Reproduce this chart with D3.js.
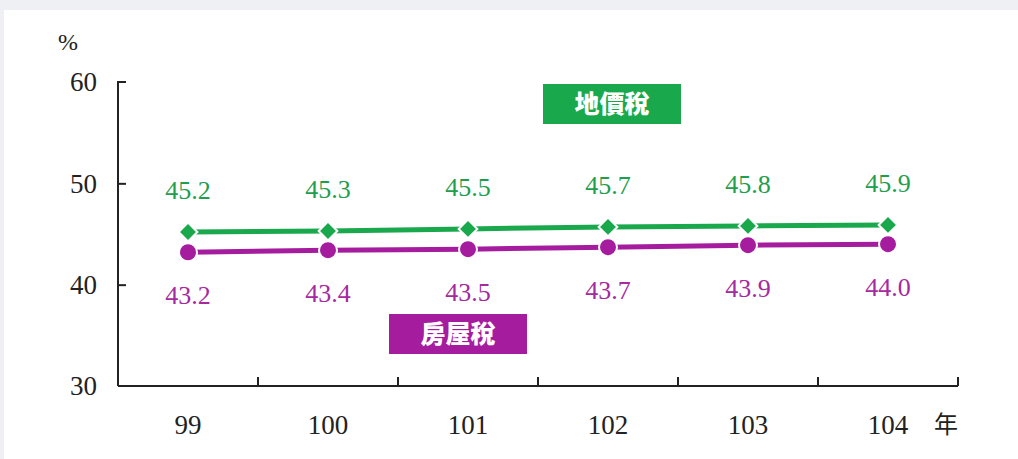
<!DOCTYPE html>
<html>
<head>
<meta charset="utf-8">
<script src="https://cdn.jsdelivr.net/npm/d3@7"></script>
<style>
  body { margin: 0; background: #eef0f3; }
  svg { display: block; }
</style>
</head>
<body>
<svg id="chart" width="1018" height="459"></svg>
<script>
const years = ["99", "100", "101", "102", "103", "104"];
const landTax = [45.2, 45.3, 45.5, 45.7, 45.8, 45.9];
const houseTax = [43.2, 43.4, 43.5, 43.7, 43.9, 44.0];
const yTicks = [30, 40, 50, 60];

const green = "#1aa84c";
const purple = "#a61c9f";
const serif = "'Liberation Serif', 'Times New Roman', serif";

const svg = d3.select("#chart");

// white panel
svg.append("rect").attr("x", 4).attr("y", 10).attr("width", 1014).attr("height", 449).attr("fill", "#fff");

const x = d3.scaleBand().domain(years).range([118, 958]);
const y = d3.scaleLinear().domain([30, 60]).range([386, 82]);

// y axis
const yAxis = svg.append("g")
  .attr("transform", "translate(118,0)")
  .call(d3.axisRight(y).tickValues(yTicks).tickSize(8).tickFormat(""));
yAxis.select(".domain").attr("stroke", "#222").attr("stroke-width", 2).attr("d", "M8,82H0V386");
yAxis.selectAll(".tick line").attr("stroke", "#222").attr("stroke-width", 2);
yAxis.selectAll(".tick").filter(d => d === 30 || d === 60).select("line").remove();

svg.selectAll(".ylab")
  .data(yTicks)
  .enter()
  .append("text")
  .attr("x", 97)
  .attr("y", d => y(d))
  .attr("dy", "0.35em")
  .attr("text-anchor", "end")
  .style("font-family", serif)
  .style("font-size", "27px")
  .style("fill", "#222")
  .text(d => d);

svg.append("text").attr("x", 68).attr("y", 42).attr("dy", "0.35em").attr("text-anchor", "middle")
  .style("font-family", serif).style("font-size", "24px").style("fill", "#222").text("%");

// x axis
svg.append("line").attr("x1", 118).attr("x2", 958).attr("y1", 386).attr("y2", 386)
  .attr("stroke", "#222").attr("stroke-width", 2);
svg.selectAll(".xtick")
  .data(years.slice(1).concat(["end"]))
  .enter()
  .append("line")
  .attr("x1", (d, i) => x.range()[0] + (i + 1) * x.bandwidth())
  .attr("x2", (d, i) => x.range()[0] + (i + 1) * x.bandwidth())
  .attr("y1", 386).attr("y2", 377)
  .attr("stroke", "#222").attr("stroke-width", 2);

svg.selectAll(".xlab")
  .data(years)
  .enter()
  .append("text")
  .attr("x", d => x(d) + x.bandwidth() / 2)
  .attr("y", 425)
  .attr("dy", "0.35em")
  .attr("text-anchor", "middle")
  .style("font-family", serif)
  .style("font-size", "27px")
  .style("fill", "#222")
  .text(d => d);

svg.append("text").attr("x", 946).attr("y", 425).attr("dy", "0.35em").attr("text-anchor", "middle")
  .style("font-family", "'Noto Sans CJK TC', sans-serif").style("font-size", "24px").style("fill", "#222").text("年");

const cx = d => x(d) + x.bandwidth() / 2;
const line = d3.line().x((d, i) => cx(years[i])).y(d => y(d));

// lines
svg.append("path").datum(landTax).attr("d", line).attr("fill", "none").attr("stroke", green).attr("stroke-width", 5);
svg.append("path").datum(houseTax).attr("d", line).attr("fill", "none").attr("stroke", purple).attr("stroke-width", 5);

// markers
svg.selectAll(".diamond")
  .data(landTax)
  .enter()
  .append("path")
  .attr("d", d3.symbol().type(d3.symbolSquare).size(175))
  .attr("transform", (d, i) => `translate(${cx(years[i])},${y(d)}) rotate(45)`)
  .attr("fill", green)
  .attr("stroke", "#fff")
  .attr("stroke-width", 2);

svg.selectAll(".circle")
  .data(houseTax)
  .enter()
  .append("circle")
  .attr("cx", (d, i) => cx(years[i]))
  .attr("cy", d => y(d))
  .attr("r", 9)
  .attr("fill", purple)
  .attr("stroke", "#fff")
  .attr("stroke-width", 2);

// value labels
svg.selectAll(".glab")
  .data(landTax)
  .enter()
  .append("text")
  .attr("x", (d, i) => cx(years[i]))
  .attr("y", d => y(d) - 42)
  .attr("dy", "0.35em")
  .attr("text-anchor", "middle")
  .style("font-family", serif)
  .style("font-size", "26px")
  .style("fill", "#1f9e4e")
  .text(d => d.toFixed(1));

svg.selectAll(".plab")
  .data(houseTax)
  .enter()
  .append("text")
  .attr("x", (d, i) => cx(years[i]))
  .attr("y", d => y(d) + 43)
  .attr("dy", "0.35em")
  .attr("text-anchor", "middle")
  .style("font-family", serif)
  .style("font-size", "26px")
  .style("fill", "#a52a9f")
  .text(d => d.toFixed(1));

// legend boxes
const legends = [
  { label: "地價稅", color: green, x: 543, y: 84 },
  { label: "房屋稅", color: purple, x: 389, y: 314 }
];
legends.forEach(l => {
  svg.append("rect").attr("x", l.x).attr("y", l.y).attr("width", 138).attr("height", 40).attr("fill", l.color);
  svg.append("text").attr("x", l.x + 69).attr("y", l.y + 20).attr("dy", "0.35em").attr("text-anchor", "middle")
    .style("font-family", "'Noto Sans CJK TC', sans-serif").style("font-weight", "900").style("font-size", "25px")
    .style("fill", "#fff").text(l.label);
});
</script>
</body>
</html>
